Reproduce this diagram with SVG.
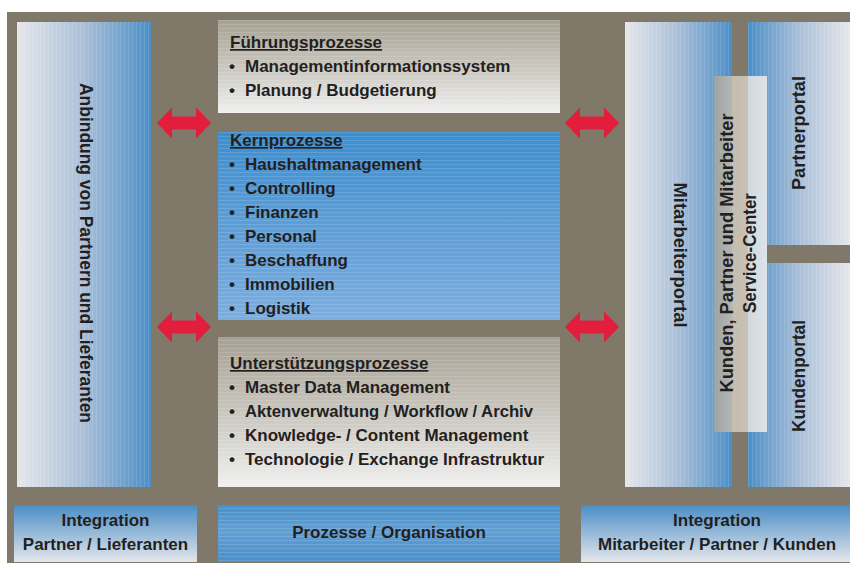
<svg xmlns="http://www.w3.org/2000/svg" width="850" height="563" viewBox="0 0 850 563">
<style>
  text { font-family: "Liberation Sans", Arial, sans-serif; font-weight: bold; fill: #231f1e; }
  .t { font-size: 17px; }
  .h { font-size: 17px; text-decoration: underline; }
  .v { font-size: 18px; text-anchor: middle; }
  .c { font-size: 17px; text-anchor: middle; }
  .arrow { fill: #e31d3c; }
</style>
<defs>
  <linearGradient id="gL2R" x1="0" y1="0" x2="1" y2="0">
    <stop offset="0" stop-color="#e6e7ea"/>
    <stop offset="0.5" stop-color="#a9bfd9"/>
    <stop offset="1" stop-color="#4a8fc7"/>
  </linearGradient>
  <linearGradient id="gR2L" x1="1" y1="0" x2="0" y2="0">
    <stop offset="0" stop-color="#e6e7ea"/>
    <stop offset="0.5" stop-color="#a9bfd9"/>
    <stop offset="1" stop-color="#4a8fc7"/>
  </linearGradient>
  <linearGradient id="gGray" x1="0" y1="0" x2="0" y2="1">
    <stop offset="0" stop-color="#a6a193"/>
    <stop offset="0.55" stop-color="#cdcac2"/>
    <stop offset="1" stop-color="#f0f0f0"/>
  </linearGradient>
  <linearGradient id="gKern" x1="0" y1="0" x2="0" y2="1">
    <stop offset="0" stop-color="#3d8ecf"/>
    <stop offset="1" stop-color="#7caee0"/>
  </linearGradient>
  <linearGradient id="gBottom" x1="0" y1="0" x2="0" y2="1">
    <stop offset="0" stop-color="#4b8ec6"/>
    <stop offset="1" stop-color="#e3e6eb"/>
  </linearGradient>
  <linearGradient id="gProz" x1="0" y1="0" x2="0" y2="1">
    <stop offset="0" stop-color="#4491cd"/>
    <stop offset="0.45" stop-color="#62a0d5"/>
    <stop offset="1" stop-color="#4a8fcb"/>
  </linearGradient>
  <linearGradient id="gService" x1="0" y1="0" x2="1" y2="0">
    <stop offset="0" stop-color="#9ea4a5"/>
    <stop offset="0.34" stop-color="#b4b6b2"/>
    <stop offset="0.34" stop-color="#c5bdaf"/>
    <stop offset="0.64" stop-color="#c8c1b4"/>
    <stop offset="0.64" stop-color="#d1d9df"/>
    <stop offset="1" stop-color="#dde3e8"/>
  </linearGradient>
  <pattern id="stripesH" width="4" height="4" patternUnits="userSpaceOnUse">
    <rect x="0" y="0" width="4" height="1" fill="#ffffff" fill-opacity="0.13"/>
  </pattern>
  <pattern id="stripesV" width="4" height="4" patternUnits="userSpaceOnUse">
    <rect x="0" y="0" width="1" height="4" fill="#ffffff" fill-opacity="0.12"/>
  </pattern>
  <path id="dblArrow" d="M0,0 L15,-15.5 L15,-6.5 L39,-6.5 L39,-15.5 L54,0 L39,15.5 L39,6.5 L15,6.5 L15,15.5 Z"/>
</defs>

<rect x="7" y="12" width="843" height="551" fill="#807869"/>

<g id="anbindung">
  <rect x="17" y="22" width="134" height="465" fill="url(#gL2R)"/>
  <rect x="17" y="22" width="134" height="465" fill="url(#stripesV)"/>
  <text class="v" transform="translate(86,253) rotate(90)" y="6" textLength="340" lengthAdjust="spacingAndGlyphs">Anbindung von Partnern und Lieferanten</text>
</g>

<g id="fuehrungsprozesse">
  <rect x="218" y="20" width="342" height="93" fill="url(#gGray)"/>
  <rect x="218" y="20" width="342" height="93" fill="url(#stripesH)"/>
  <text class="h" x="230" y="48">Führungsprozesse</text>
  <text class="t" x="229" y="72">•</text><text class="t" x="245" y="72">Managementinformationssystem</text>
  <text class="t" x="229" y="96">•</text><text class="t" x="245" y="96">Planung / Budgetierung</text>
</g>

<g id="kernprozesse">
  <rect x="218" y="132" width="342" height="188" fill="url(#gKern)"/>
  <rect x="218" y="132" width="342" height="188" fill="url(#stripesH)"/>
  <text class="h" x="230" y="146">Kernprozesse</text>
  <text class="t" x="229" y="170">•</text><text class="t" x="245" y="170">Haushaltmanagement</text>
  <text class="t" x="229" y="194">•</text><text class="t" x="245" y="194">Controlling</text>
  <text class="t" x="229" y="218">•</text><text class="t" x="245" y="218">Finanzen</text>
  <text class="t" x="229" y="242">•</text><text class="t" x="245" y="242">Personal</text>
  <text class="t" x="229" y="266">•</text><text class="t" x="245" y="266">Beschaffung</text>
  <text class="t" x="229" y="290">•</text><text class="t" x="245" y="290">Immobilien</text>
  <text class="t" x="229" y="314">•</text><text class="t" x="245" y="314">Logistik</text>
</g>

<g id="unterstuetzungsprozesse">
  <rect x="218" y="337" width="342" height="150" fill="url(#gGray)"/>
  <rect x="218" y="337" width="342" height="150" fill="url(#stripesH)"/>
  <text class="h" x="230" y="369">Unterstützungsprozesse</text>
  <text class="t" x="229" y="393">•</text><text class="t" x="245" y="393">Master Data Management</text>
  <text class="t" x="229" y="417">•</text><text class="t" x="245" y="417" textLength="288" lengthAdjust="spacingAndGlyphs">Aktenverwaltung / Workflow / Archiv</text>
  <text class="t" x="229" y="441">•</text><text class="t" x="245" y="441">Knowledge- / Content Management</text>
  <text class="t" x="229" y="465">•</text><text class="t" x="245" y="465">Technologie / Exchange Infrastruktur</text>
</g>

<g id="mitarbeiterportal">
  <rect x="625" y="22" width="107" height="465" fill="url(#gL2R)"/>
  <rect x="625" y="22" width="107" height="465" fill="url(#stripesV)"/>
  <text class="v" transform="translate(680,255) rotate(90)" y="6" textLength="145" lengthAdjust="spacingAndGlyphs">Mitarbeiterportal</text>
</g>

<g id="partnerportal">
  <rect x="748" y="22" width="102" height="223" fill="url(#gR2L)"/>
  <rect x="748" y="22" width="102" height="223" fill="url(#stripesV)"/>
  <text class="v" transform="translate(799,133) rotate(-90)" y="6" textLength="114" lengthAdjust="spacingAndGlyphs">Partnerportal</text>
</g>

<g id="kundenportal">
  <rect x="748" y="263" width="102" height="224" fill="url(#gR2L)"/>
  <rect x="748" y="263" width="102" height="224" fill="url(#stripesV)"/>
  <text class="v" transform="translate(799,376) rotate(-90)" y="6" textLength="112" lengthAdjust="spacingAndGlyphs">Kundenportal</text>
</g>

<g id="service-center">
  <rect x="714" y="76" width="53" height="356" fill="url(#gService)"/>
  <text class="v" transform="translate(727,253) rotate(-90)" y="6" textLength="279" lengthAdjust="spacingAndGlyphs">Kunden, Partner und Mitarbeiter</text>
  <text class="v" transform="translate(750,253) rotate(-90)" y="6" textLength="120" lengthAdjust="spacingAndGlyphs">Service-Center</text>
</g>

<g id="integration-partner">
  <rect x="14" y="505" width="183" height="57" fill="url(#gBottom)"/>
  <text class="c" x="105.5" y="526">Integration</text>
  <text class="c" x="105.5" y="550">Partner / Lieferanten</text>
</g>

<g id="prozesse-organisation">
  <rect x="218" y="505" width="342" height="57" fill="url(#gProz)"/>
  <rect x="218" y="505" width="342" height="57" fill="url(#stripesH)"/>
  <text class="c" x="389" y="538">Prozesse / Organisation</text>
</g>

<g id="integration-mitarbeiter">
  <rect x="581" y="505" width="269" height="57" fill="url(#gBottom)"/>
  <text class="c" x="717" y="526">Integration</text>
  <text class="c" x="717" y="550">Mitarbeiter / Partner / Kunden</text>
</g>

<g id="connectors">
  <use href="#dblArrow" class="arrow" transform="translate(157,123)"/>
  <use href="#dblArrow" class="arrow" transform="translate(157,327)"/>
  <use href="#dblArrow" class="arrow" transform="translate(565,123)"/>
  <use href="#dblArrow" class="arrow" transform="translate(565,327)"/>
</g>
</svg>
